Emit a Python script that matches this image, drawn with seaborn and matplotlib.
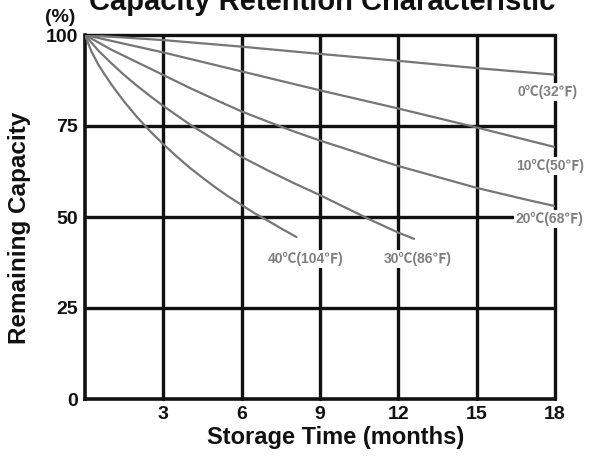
import pandas as pd
import matplotlib
matplotlib.use("Agg")
import matplotlib.pyplot as plt
import seaborn as sns

sns.set_theme(style="white")
plt.rcParams['font.family'] = ['Liberation Sans', 'DejaVu Sans']

# storage time (months) and remaining capacity (%) per temperature
months_0 = [0, 3, 6, 9, 12, 15, 18]
cap_0 = [100, 98.6, 96.8, 94.8, 92.9, 90.9, 89.1]

months_10 = [0, 3, 6, 9, 12, 15, 18]
cap_10 = [100, 95.2, 90, 84.8, 79.8, 74.6, 69.2]

months_20 = [0, 1, 2, 3, 4, 5, 6, 7, 8, 9, 10, 11, 12, 13, 14, 15, 16, 17, 18]
cap_20 = [100, 96, 92.5, 89, 85.5, 82.2, 79, 76.2, 73.5, 71, 68.7, 66.3, 64, 62, 60, 58, 56.3, 54.6, 53]

months_30 = [0, 0.5, 1, 1.5, 2, 2.5, 3, 4, 5, 6, 7, 8, 9, 10, 11, 12, 12.6]
cap_30 = [100, 95.8, 92.3, 89, 86, 83.2, 80.5, 75.5, 71, 66.5, 62.8, 59.3, 56, 52.5, 49, 45.7, 44]

months_40 = [0, 0.25, 0.5, 0.75, 1, 1.5, 2, 2.5, 3, 3.5, 4, 4.5, 5, 5.5, 6, 6.5, 7, 7.5, 8.1]
cap_40 = [100, 95.4, 92, 89.2, 86.5, 81.7, 77.4, 73.5, 70, 66.7, 63.6, 60.8, 58.1, 55.6, 53.3,
          51.0, 49.0, 46.9, 44.5]

series_names = ['0℃(32℉)', '10℃(50℉)', '20℃(68℉)', '30℃(86℉)', '40℃(104℉)']
series_x = [months_0, months_10, months_20, months_30, months_40]
series_y = [cap_0, cap_10, cap_20, cap_30, cap_40]

# where each curve label sits (months, %)
label_pos = [(17.7, 84.3), (17.8, 64.0), (17.8, 49.5), (12.75, 38.5), (8.46, 38.5)]

x_ticks = [3, 6, 9, 12, 15, 18]
y_ticks = [0, 25, 50, 75, 100]

frames = []
for name, xs, ys in zip(series_names, series_x, series_y):
    frames.append(pd.DataFrame({'Storage Time': xs, 'Capacity': ys, 'Temp': name}))
df = pd.concat(frames, ignore_index=True)

fig = plt.figure(figsize=(5.96, 4.57), dpi=100)
ax = fig.add_axes([85 / 596, 1 - 399 / 457, 470 / 596, 364 / 457])

# thick black grid (outer ones act as the frame)
for v in x_ticks:
    ax.axvline(v, color='#111111', lw=2.4, zorder=1, clip_on=False)
for v in y_ticks[1:]:
    ax.axhline(v, color='#111111', lw=2.4, zorder=1, clip_on=False)

sns.lineplot(data=df, x='Storage Time', y='Capacity', hue='Temp',
             palette=['#767676'] * 5, linewidth=1.6, legend=False,
             sort=False, estimator=None, ax=ax, zorder=3)

for name, (lx, ly) in zip(series_names, label_pos):
    ax.text(lx, ly, name, ha='center', va='center', fontsize=10, fontweight='bold',
            color='#7f7f7f', family=['Liberation Sans', 'Noto Sans CJK SC'],
            bbox=dict(facecolor='white', edgecolor='none', pad=1.5),
            zorder=4, clip_on=False)

ax.set_xlim(0, 18)
ax.set_ylim(0, 100)
ax.set_xticks(x_ticks)
ax.set_yticks(y_ticks)
ax.tick_params(axis='x', length=0, labelsize=14, pad=5)
ax.tick_params(axis='y', length=0, labelsize=14, pad=5)
for lbl in ax.get_xticklabels() + ax.get_yticklabels():
    lbl.set_fontweight('bold')
    lbl.set_color('#111111')
for s in ['left', 'bottom']:
    ax.spines[s].set_color('#111111')
    ax.spines[s].set_linewidth(2.6)
for s in ['top', 'right']:
    ax.spines[s].set_visible(False)
ax.set_xlabel('')
ax.set_ylabel('')

fig.text(322 / 596, 1 - 9.5 / 457, 'Capacity Retention Characteristic', ha='center',
         va='baseline', fontsize=21, fontweight='bold', color='#111111')
fig.text(60 / 596, 1 - 18 / 457, '(%)', ha='center', va='center', fontsize=14,
         fontweight='bold', color='#111111')
fig.text(336 / 596, 1 - 444 / 457, 'Storage Time (months)', ha='center', va='baseline',
         fontsize=17, fontweight='bold', color='#111111')
fig.text(20 / 596, 1 - 228 / 457, 'Remaining Capacity', ha='center', va='center',
         rotation=90, fontsize=17.5, fontweight='bold', color='#111111')

fig.savefig('out.png', dpi=100, facecolor='white')
